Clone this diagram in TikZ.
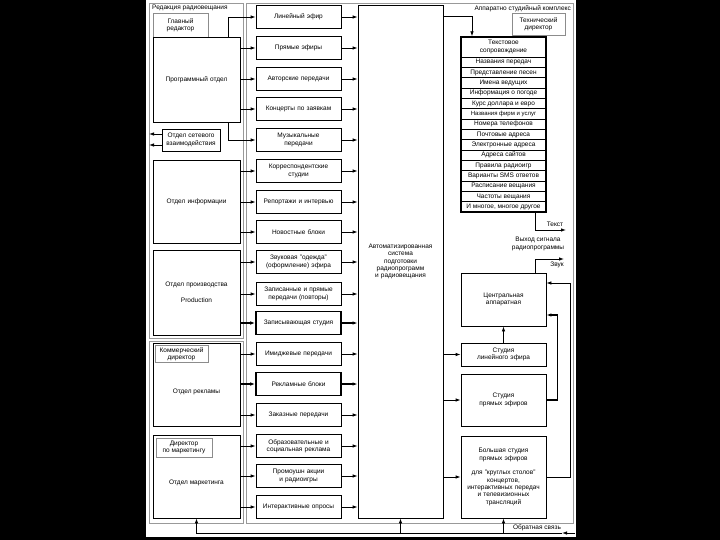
\documentclass[tikz,border=0pt]{standalone}
\usepackage{fontspec}
\setmainfont{Liberation Sans}
\usetikzlibrary{arrows.meta}

\begin{document}
\begin{tikzpicture}
[x=1pt, y=-1pt,
 font=\fontsize{6.5}{7.4}\selectfont,
 block/.style ={rectangle, draw=black, line width=0.8pt, minimum width=85pt, minimum height=23pt, text width=83pt, align=center, inner sep=0pt},
 heavy/.style ={block, line width=1.6pt},
 dept/.style ={rectangle, draw=black, line width=0.8pt, minimum width=87pt, text width=85pt, align=center, inner sep=0pt},
 boss/.style ={rectangle, draw=black!45, line width=0.6pt, align=center, inner sep=0pt},
 studio/.style ={rectangle, draw=black, line width=0.8pt, minimum width=85pt, text width=83pt, align=center, inner sep=0pt},
 item/.style ={rectangle, draw=black, line width=0.4pt, minimum width=85pt, minimum height=10.33pt, inner sep=0pt},
 listbox/.style ={rectangle, draw=black, line width=1.3pt, minimum width=85pt, minimum height=175pt, inner sep=0pt},
 frame/.style ={draw=black!40, line width=0.6pt},
 line/.style ={draw, line width=0.8pt, -{Latex[length=5pt,width=3.5pt]}},
 heavyline/.style ={line, line width=1.6pt},
 plain/.style ={draw, line width=0.8pt}]
% page and frames
\fill[black] (0,0) rectangle (720,540);
\fill[white] (146,0) rectangle (576,537);
\draw[frame] (149,3) rectangle (243,338);
\draw[frame] (149,341) rectangle (243,523);
\draw[frame] (246,3) rectangle (573,523);
\draw (152,5) node[anchor=north west, inner sep=0pt] (redTitle) {Редакция радиовещания};
\draw (571,5) node[anchor=north east, inner sep=0pt] (hwTitle) {Аппаратно студийный комплекс};
% left column
\draw (180.5,25) node[boss, minimum width=55pt, minimum height=24pt] (chief) {Главный\\редактор};
\draw (196.5,79.5) node[dept, minimum height=85pt] (prog) {Программный отдел};
\draw (191,140) node[dept, minimum width=58pt, text width=57pt, minimum height=22pt] (net) {Отдел сетевого\\взаимодействия};
\draw (196.5,201.5) node[dept, minimum height=83pt] (info) {Отдел информации};
\draw (196.5,292.5) node[dept, minimum height=85pt] (prod) {Отдел производства\\[8.6pt]Production};
\draw (196.5,384.5) node[dept, minimum height=83pt] (adv) {};
\draw (196.5,392) node[] (advLabel) {Отдел рекламы};
\draw (181.5,354) node[boss, minimum width=53pt, minimum height=17pt] (comm) {Коммерческий\\директор};
\draw (196.5,476.5) node[dept, minimum height=83pt] (mkt) {};
\draw (196.5,483) node[] (mktLabel) {Отдел маркетинга};
\draw (184,447.5) node[boss, minimum width=56pt, minimum height=19pt] (mdir) {Директор\\по маркетингу};
\coordinate (netA) at (149,134);
\coordinate (netB) at (149,145);
% middle column
\draw (298.5,17) node[block] (b1) {Линейный эфир};
\draw (298.5,48) node[block] (b2) {Прямые эфиры};
\draw (298.5,79) node[block] (b3) {Авторские передачи};
\draw (298.5,109) node[block] (b4) {Концерты по заявкам};
\draw (298.5,140) node[block] (b5) {Музыкальные\\передачи};
\draw (298.5,171) node[block] (b6) {Корреспондентские\\студии};
\draw (298.5,202) node[block] (b7) {Репортажи и интервью};
\draw (298.5,232) node[block] (b8) {Новостные блоки};
\draw (298.5,262) node[block] (b9) {Звуковая "одежда"\\(оформление) эфира};
\draw (298.5,294) node[block] (b10) {Записанные и прямые\\передачи (повторы)};
\draw (298.5,323) node[heavy] (b11) {Записывающая студия};
\draw (298.5,354) node[block] (b12) {Имиджевые передачи};
\draw (298.5,384) node[heavy] (b13) {Рекламные блоки};
\draw (298.5,415) node[block] (b14) {Заказные передачи};
\draw (298.5,446) node[block] (b15) {Образовательные и\\социальная реклама};
\draw (298.5,476) node[block] (b16) {Промоушн акции\\и радиоигры};
\draw (298.5,507) node[block] (b17) {Интерактивные опросы};
% automated system
\draw (400.5,261.5) node[block, minimum height=513pt] (asu) {Автоматизированная\\система\\подготовки\\радиопрограмм\\и радиовещания};
% right column
\draw (538.5,24) node[boss, minimum width=53pt, minimum height=22pt] (tech) {Технический\\директор};
\draw (503.5,47) node[align=center, inner sep=0pt] (head) {Текстовое\\сопровождение};
\draw (503.5,62.17) node[item] (r1) {Названия передач};
\draw (503.5,72.5) node[item] (r2) {Представление песен};
\draw (503.5,82.83) node[item] (r3) {Имена ведущих};
\draw (503.5,93.17) node[item] (r4) {Информация о погоде};
\draw (503.5,103.5) node[item] (r5) {Курс доллара и евро};
\draw (503.5,113.83) node[item, font=\fontsize{6}{7}\selectfont] (r6) {Названия фирм и услуг};
\draw (503.5,124.17) node[item] (r7) {Номера телефонов};
\draw (503.5,134.5) node[item] (r8) {Почтовые адреса};
\draw (503.5,144.83) node[item] (r9) {Электронные адреса};
\draw (503.5,155.17) node[item] (r10) {Адреса сайтов};
\draw (503.5,165.5) node[item] (r11) {Правила радиоигр};
\draw (503.5,175.83) node[item] (r12) {Варианты SMS ответов};
\draw (503.5,186.17) node[item] (r13) {Расписание вещания};
\draw (503.5,196.5) node[item] (r14) {Частоты вещания};
\draw (503.5,206.83) node[item] (r15) {И многое, многое другое};
\draw (503.5,124.5) node[listbox] (list) {};
\draw (538,244) node[align=center, inner sep=0pt] (outLabel) {Выход сигнала\\радиопрограммы};
\draw (555,224) node[inner sep=0pt] (textLabel) {Текст};
\draw (557,265) node[inner sep=0pt] (soundLabel) {Звук};
\draw (503.5,299.5) node[studio, minimum height=53pt] (cen) {Центральная\\аппаратная};
\draw (503.5,354.5) node[studio, minimum height=23pt] (lin) {Студия\\линейного эфира};
\draw (503.5,400) node[studio, minimum height=52pt] (live) {Студия\\прямых эфиров};
\draw (503.5,477) node[studio, minimum height=82pt] (big) {Большая студия\\прямых эфиров\\[7.2pt]для "круглых столов"\\концертов,\\интерактивных передач\\и телевизионных\\трансляций};
\draw (537,527.5) node[inner sep=0pt] (fbLabel) {Обратная связь};
\coordinate (textEnd) at (566,230);
\coordinate (soundEnd) at (564,259);
\coordinate (fbR) at (575,533);
\coordinate (fbA) at (562,533);
% departments to programmes
\draw[line] ([xshift=31.5pt]prog.north) |- (b1);
\draw[line] (b2 -| prog.east) -- (b2);
\draw[line] (b3 -| prog.east) -- (b3);
\draw[line] (b4 -| prog.east) -- (b4);
\draw[line] ([xshift=31.5pt]prog.south) |- (b5);
\draw[line] (net.west |- netA) -- (netA);
\draw[line] (net.west |- netB) -- (netB);
\draw[line] (b6 -| info.east) -- (b6);
\draw[line] (b7 -| info.east) -- (b7);
\draw[line] (b8 -| info.east) -- (b8);
\draw[line] (b9 -| prod.east) -- (b9);
\draw[line] (b10 -| prod.east) -- (b10);
\draw[heavyline] (b11 -| prod.east) -- (b11);
\draw[line] (b12 -| adv.east) -- (b12);
\draw[heavyline] (b13 -| adv.east) -- (b13);
\draw[line] (b14 -| adv.east) -- (b14);
\draw[line] (b15 -| mkt.east) -- (b15);
\draw[line] (b16 -| mkt.east) -- (b16);
\draw[line] (b17 -| mkt.east) -- (b17);
% programmes to the system
\draw[line] (b1) -- (b1 -| asu.west);
\draw[line] (b2) -- (b2 -| asu.west);
\draw[line] (b3) -- (b3 -| asu.west);
\draw[line] (b4) -- (b4 -| asu.west);
\draw[line] (b5) -- (b5 -| asu.west);
\draw[line] (b6) -- (b6 -| asu.west);
\draw[line] (b7) -- (b7 -| asu.west);
\draw[line] (b8) -- (b8 -| asu.west);
\draw[line] (b9) -- (b9 -| asu.west);
\draw[line] (b10) -- (b10 -| asu.west);
\draw[heavyline] (b11) -- (b11 -| asu.west);
\draw[line] (b12) -- (b12 -| asu.west);
\draw[heavyline] (b13) -- (b13 -| asu.west);
\draw[line] (b14) -- (b14 -| asu.west);
\draw[line] (b15) -- (b15 -| asu.west);
\draw[line] (b16) -- (b16 -| asu.west);
\draw[line] (b17) -- (b17 -| asu.west);
% system to studios
\draw[line] ([yshift=-12pt]asu.north east) -| ([xshift=-31.5pt]list.north);
\draw[line] ([xshift=31.5pt]list.south) |- (textEnd);
\draw[line] ([xshift=32pt]cen.north) |- (soundEnd);
\draw[line] (asu.east |- lin) -- (lin);
\draw[line] (asu.east |- live) -- (live);
\draw[line] (asu.east |- big) -- (big);
\draw[line] (lin) -- (cen);
\draw[heavyline] (live.east) -- ++(11,0) |- ([yshift=-15.5pt]cen.east);
\draw[line] (big.east) -- ++(24,0) |- ([yshift=16.5pt]cen.east);
% feedback
\draw[line] (fbR) -- (fbA);
\draw[line] (fbA) -| (mkt.south);
\draw[line] (asu.south |- fbA) -- (asu.south);
\draw[line] (big.south |- fbA) -- (big.south);
\end{tikzpicture}
\end{document}
